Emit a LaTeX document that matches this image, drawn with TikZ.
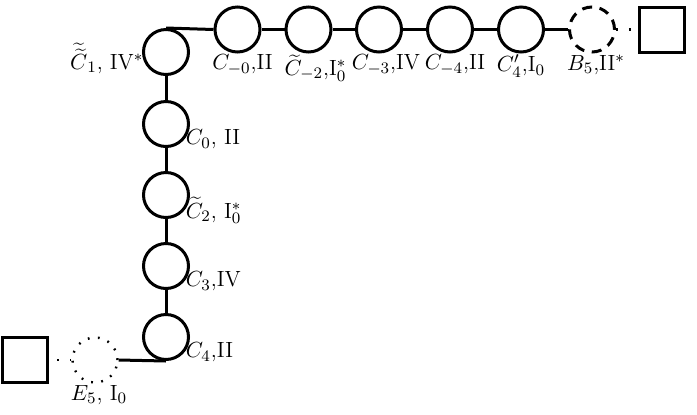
\documentclass[tikz,border=0pt]{standalone}
\usetikzlibrary{positioning}
\begin{document}
\begin{tikzpicture}[x=0.5pt,y=-0.5pt,
  nd/.style={circle,draw,line width=1.5pt,inner sep=0pt,minimum size=22.5pt},
  ndash/.style={nd,dash pattern=on 5pt off 3.8pt},
  ndot/.style={circle,draw,line width=1.2pt,inner sep=0pt,minimum size=22.5pt,dash pattern=on 0.9pt off 4.2pt},
  sq/.style={rectangle,draw,line width=1.5pt,inner sep=0pt,minimum size=22.5pt},
  ln/.style={line width=1.5pt},
  dl/.style={line width=1.2pt,dash pattern=on 0.9pt off 5.5pt},
  lb/.style={inner sep=0.5pt,font=\fontsize{11}{13}\selectfont}]
\useasboundingbox (0,0) rectangle (697,414);
% vertical column
\node[nd] (c1) at (166,52) {};
\node[nd] (c0) at (166,124) {};
\node[nd] (c2) at (166,195) {};
\node[nd] (c3) at (166,266) {};
\node[nd] (c4) at (166,337) {};
\node[ndot] (e5) at (95,360) {};
\node[sq] (sl) at (24.5,360) {};
% top row
\node[nd] (m0) at (237.5,29.5) {};
\node[nd] (m2) at (308.5,29.5) {};
\node[nd] (m3) at (379,29.5) {};
\node[nd] (m4) at (450,29.5) {};
\node[nd] (p4) at (521,29.5) {};
\node[ndash] (b5) at (592,29.5) {};
\node[sq] (sr) at (662,29.5) {};
% connectors
\draw[ln] (c1.north) -- (m0.west);
\draw[ln] (m0) -- (m2);
\draw[ln] (m2) -- (m3);
\draw[ln] (m3) -- (m4);
\draw[ln] (m4) -- (p4);
\draw[ln] (p4) -- (b5);
\draw[dl] (b5.east) -- (sr.west);
\draw[ln] (c1) -- (c0);
\draw[ln] (c0) -- (c2);
\draw[ln] (c2) -- (c3);
\draw[ln] (c3) -- (c4);
\draw[ln] (c4.south) -- (e5.east);
\draw[dl] (e5.west) -- (sl.east);
% labels
\node[lb,anchor=east,inner sep=0pt] (l1) at ([xshift=0.5pt]c1.195) {$\widetilde{\widetilde{C}}_1$, IV$^*$};
\node[lb,anchor=west] (l0) at (c0.-40) {$C_0$, II};
\node[lb,anchor=west] (l2) at (c2.-40) {$\widetilde{C}_2$, I$_0^*$};
\node[lb,anchor=west] (l3) at (c3.-40) {$C_3$,IV};
\node[lb,anchor=west] (l4) at (c4.-40) {$C_4$,II};
\node[lb,anchor=north] (le) at ([xshift=2pt]e5.south) {$E_5$, I$_0$};
\node[lb,anchor=north] (lm0) at ([xshift=2.5pt]m0.south) {$C_{-0}$,II};
\node[lb,anchor=north] (lm2) at ([xshift=3.5pt]m2.south) {$\widetilde{C}_{-2}$,I$_0^*$};
\node[lb,anchor=north] (lm3) at ([xshift=3.5pt]m3.south) {$C_{-3}$,IV};
\node[lb,anchor=north] (lm4) at ([xshift=2.5pt]m4.south) {$C_{-4}$,II};
\node[lb,anchor=north] (lp4) at (p4.south) {$C'_4$,I$_0$};
\node[lb,anchor=north] (lb5) at ([xshift=2pt]b5.south) {$B_5$,II$^*$};
\end{tikzpicture}
\end{document}
